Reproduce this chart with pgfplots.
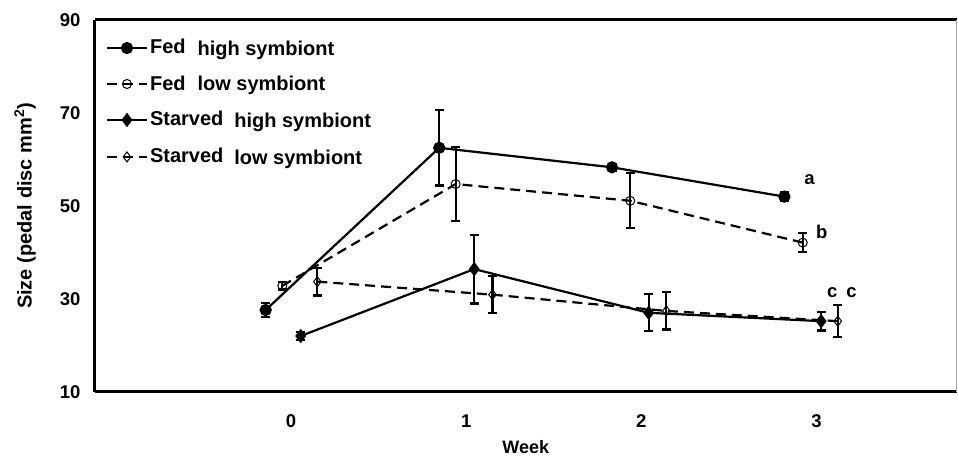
\documentclass[border=0pt]{standalone}
\usepackage{fontspec}
\setmainfont{Liberation Sans}
\usepackage{pgfplots}
\pgfplotsset{compat=1.18}

\newcommand{\fs}{\fontsize{18.5bp}{20bp}\selectfont\bfseries}
\newcommand{\lfs}{\fontsize{20bp}{22bp}\selectfont\bfseries}

\begin{document}
\begin{tikzpicture}
  \begin{axis}[
    scale only axis,
    width=862bp, height=372bp,
    xmin=-1.12, xmax=3.8,
    ymin=10, ymax=90,
    xtick={0,1,2,3},
    ytick={10,30,50,70,90},
    major tick length=0pt,
    axis x line*=box,
    axis y line*=left,
    axis line style={line width=3bp},
    tick label style={font=\fs},
    /pgf/number format/assume math mode=true,
    xticklabel style={yshift=-19bp},
    yticklabel style={xshift=-11bp},
    xlabel={Week},
    ylabel={Size (pedal disc mm\textsuperscript{2})},
    every axis x label/.style={at={(axis description cs:0.5,-0.15)},anchor=center,
      font=\fontsize{18bp}{20bp}\selectfont\bfseries},
    every axis y label/.style={at={(axis description cs:-0.0812,0.5)},anchor=center,rotate=90,font=\lfs},
    legend cell align=left,
    legend style={at={(axis description cs:0.009,0.96)}, anchor=north west,
      draw=none, fill=none, font=\lfs, row sep=15bp},
    legend image code/.code={%
      \draw[mark repeat=2,mark phase=2,#1] plot coordinates {(0bp,0bp) (20bp,0bp) (40bp,0bp)};},
    clip=false,
    error bars/y dir=both,
    error bars/y explicit,
    error bars/error bar style={line width=2.2bp, solid},
    error bars/error mark options={rotate=90, mark size=4.5bp, line width=2.2bp, solid},
  ]
    % fed, high symbiont
    \addplot[black, line width=2.2bp, mark=*, mark size=5bp] coordinates {
      (-0.145,27.6) +- (0,1.5)
      (0.846,62.5)  +- (0,8.1)
      (1.833,58.3)  +- (0,0.8)
      (2.817,52.0)  +- (0,1.0)
    };
    \addlegendentry{\raisebox{2bp}{Fed}\hspace{12bp}high symbiont}
    % fed, low symbiont
    \addplot[black, line width=2.2bp, dash pattern=on 10bp off 6bp, mark=o, mark size=4.5bp,
      mark options={solid, fill=white, line width=1bp}] coordinates {
      (-0.05,32.8) +- (0,0.8)
      (0.94,54.7)  +- (0,7.9)
      (1.937,51.1) +- (0,5.9)
      (2.922,42.1) +- (0,2.0)
    };
    \addlegendentry{Fed\hspace{12bp}low symbiont}
    % starved, high symbiont
    \addplot[black, line width=2.2bp, mark=diamond*, mark size=5.5bp] coordinates {
      (0.055,22.0) +- (0,0.9)
      (1.046,36.4) +- (0,7.4)
      (2.042,27.0) +- (0,4.0)
      (3.027,25.2) +- (0,2.0)
    };
    \addlegendentry{\raisebox{2bp}{Starved}\hspace{11bp}high symbiont}
    % starved, low symbiont
    \addplot[black, line width=2.2bp, dash pattern=on 10bp off 6bp, mark=diamond, mark size=5bp,
      mark options={solid, fill=white, line width=1bp}] coordinates {
      (0.15,33.7)  +- (0,3.0)
      (1.15,30.9)  +- (0,4.0)
      (2.143,27.4) +- (0,4.0)
      (3.122,25.2) +- (0,3.4)
    };
    \addlegendentry{\raisebox{2bp}{Starved}\hspace{11bp}low symbiont}

    \node[font=\fs] at (axis cs:2.96,55.6) {a};
    \node[font=\fs] at (axis cs:3.03,44.4) {b};
    \node[font=\fs] at (axis cs:3.09,31.4) {c};
    \node[font=\fs] at (axis cs:3.20,31.4) {c};
    \draw[gray!70, line width=1bp] (rel axis cs:1,0) -- (rel axis cs:1,1);
  \end{axis}
  \path (-95bp,-65bp) rectangle (863bp,392bp);
\end{tikzpicture}
\end{document}
